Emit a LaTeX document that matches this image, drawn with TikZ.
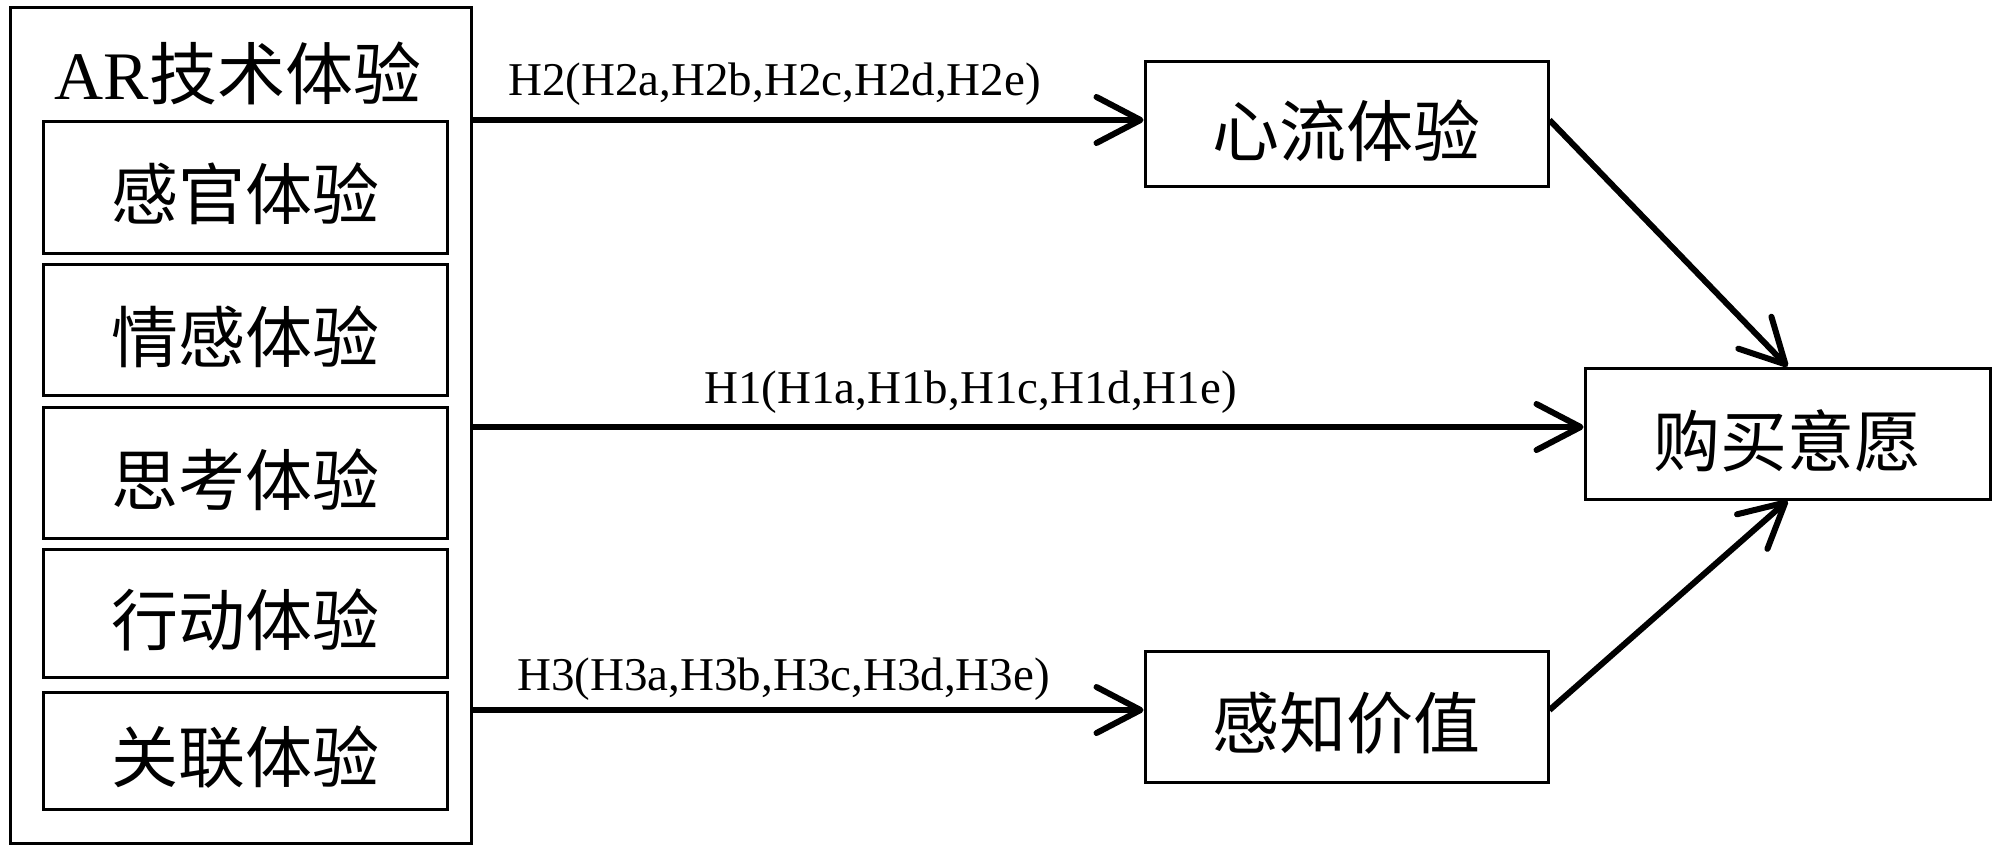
\documentclass[tikz,border=0pt]{standalone}
\usepackage{fontspec}
\setmainfont{Liberation Serif}
\newfontfamily\cjk{Noto Sans CJK SC}
\usetikzlibrary{arrows.meta}
\begin{document}
\begin{tikzpicture}[x=0.5pt,y=-0.5pt,
  frame/.style={draw, line width=1.5pt, inner sep=0pt},
  boxtext/.style={inner sep=0pt, font=\cjk\fontsize{33.5pt}{33.5pt}\selectfont},
  hlabel/.style={inner sep=0pt, anchor=base west, font=\fontsize{23.5pt}{23.5pt}\selectfont},
  arr/.style={line width=3pt, -{Straight Barb[length=22pt,width=23pt,round]}}]
\useasboundingbox (0,0) rectangle (2000,852);
% left group
\node[frame, minimum width=230.5pt, minimum height=418pt] (outer) at (240.5,425) {};
\node[inner sep=0pt, font=\fontsize{34pt}{34pt}\selectfont] (title) at (238,73) {AR{\cjk 技术体验}};
\node[frame, minimum width=202pt, minimum height=66pt] (b1) at (245,187) {};
\node[frame, minimum width=202pt, minimum height=65.5pt] (b2) at (245,329.5) {};
\node[frame, minimum width=202pt, minimum height=65.5pt] (b3) at (245,472.5) {};
\node[frame, minimum width=202pt, minimum height=64pt] (b4) at (245,613) {};
\node[frame, minimum width=202pt, minimum height=58.5pt] (b5) at (245,750.5) {};
\node[boxtext, yshift=-3.5pt] (t1) at (b1.center) {感官体验};
\node[boxtext, yshift=-3.5pt] (t2) at (b2.center) {情感体验};
\node[boxtext, yshift=-3.5pt] (t3) at (b3.center) {思考体验};
\node[boxtext, yshift=-3.5pt] (t4) at (b4.center) {行动体验};
\node[boxtext, yshift=-3.5pt] (t5) at (b5.center) {关联体验};
% right boxes
\node[frame, minimum width=201.5pt, minimum height=62.5pt] (flow) at (1346.5,123.5) {};
\node[frame, minimum width=201.5pt, minimum height=65.5pt] (perc) at (1346.5,716.5) {};
\node[frame, minimum width=202.5pt, minimum height=65.5pt] (buy) at (1787.5,433.5) {};
\node[boxtext, yshift=-3.5pt] (tf) at (flow.center) {心流体验};
\node[boxtext, yshift=-3.5pt] (tp) at (perc.center) {感知价值};
\node[boxtext, yshift=-3.5pt] (tb) at (buy.center) {购买意愿};
% arrows
\draw[arr] ([yshift=1.75pt]outer.east |- flow.west) -- ([yshift=1.75pt]flow.west);
\draw[arr] ([yshift=3.25pt]outer.east |- buy.west) -- ([yshift=3.25pt]buy.west);
\draw[arr] ([yshift=3.25pt]outer.east |- perc.west) -- ([yshift=3.25pt]perc.west);
\draw[arr] ([yshift=1.75pt]flow.east) -- (buy.north);
\draw[arr] ([yshift=3.25pt]perc.east) -- (buy.south);
% labels
\node[hlabel] (l2) at (508,95) {H2(H2a,H2b,H2c,H2d,H2e)};
\node[hlabel] (l1) at (704,403) {H1(H1a,H1b,H1c,H1d,H1e)};
\node[hlabel] (l3) at (517,690) {H3(H3a,H3b,H3c,H3d,H3e)};
\end{tikzpicture}
\end{document}
